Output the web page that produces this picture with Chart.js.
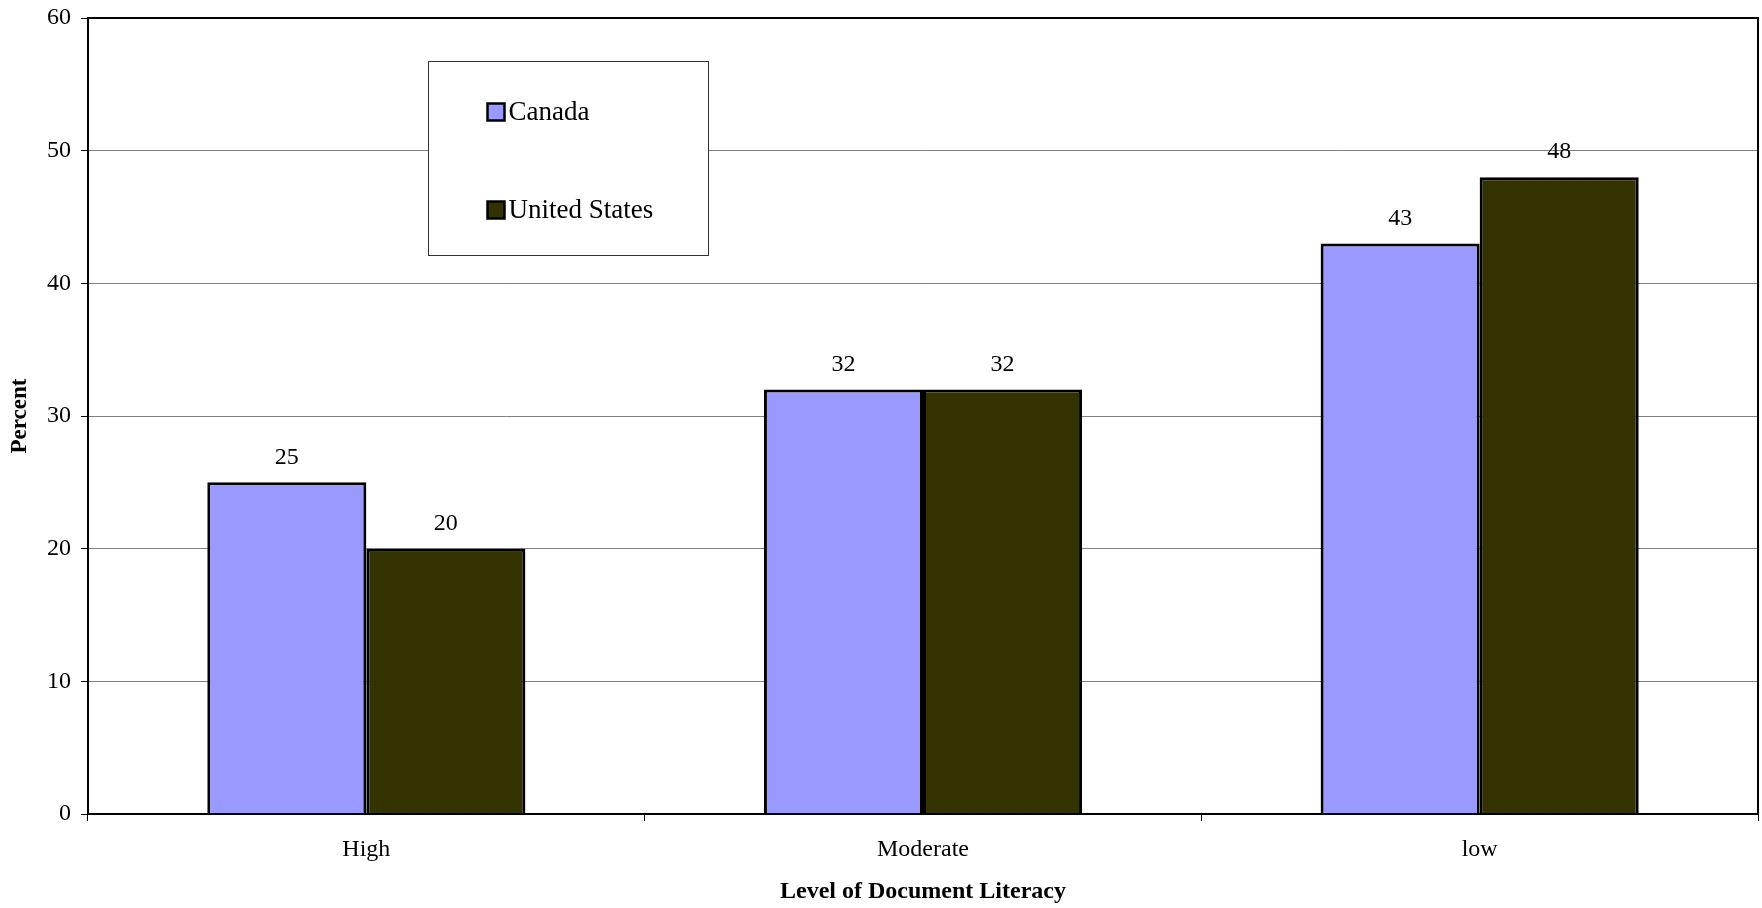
<!DOCTYPE html>
<html>
<head>
<meta charset="utf-8">
<script src="https://cdn.jsdelivr.net/npm/chart.js@4.4.1/dist/chart.umd.min.js"></script>
<style>
  html, body { margin: 0; padding: 0; background: #ffffff; }
  #wrap { width: 1762px; height: 908px; }
</style>
</head>
<body>
<div id="wrap"><canvas id="c" width="1762" height="908"></canvas></div>
<script>
// Document literacy levels, percent of adults
const categories = ['High', 'Moderate', 'low'];
const canadaValues = [25, 32, 43];
const usValues = [20, 32, 48];
const seriesNames = ['Canada', 'United States'];
const yTicks = [0, 10, 20, 30, 40, 50, 60];

const SERIF = '"Liberation Serif", "Times New Roman", Times, serif';

// Value labels above each bar
const valueLabels = {
  id: 'valueLabels',
  afterDatasetsDraw(chart) {
    const ctx = chart.ctx;
    ctx.save();
    ctx.font = '24px ' + SERIF;
    ctx.fillStyle = '#000';
    ctx.textAlign = 'center';
    ctx.textBaseline = 'middle';
    chart.data.datasets.forEach((ds, i) => {
      chart.getDatasetMeta(i).data.forEach((bar, j) => {
        ctx.fillText(String(ds.data[j]), bar.x, bar.y - 25);
      });
    });
    ctx.restore();
  }
};

// Plot-area frame plus the boxed legend inside it
const frameAndLegend = {
  id: 'frameAndLegend',
  afterDraw(chart) {
    const ctx = chart.ctx;
    const a = chart.chartArea;
    ctx.save();
    ctx.strokeStyle = '#000';
    ctx.lineWidth = 2;
    ctx.strokeRect(a.left, a.top, a.right - a.left, a.bottom - a.top);

    const bx = a.left + 340.5, by = a.top + 43.5, bw = 280, bh = 194;
    ctx.fillStyle = '#fff';
    ctx.fillRect(bx, by, bw, bh);
    ctx.strokeStyle = '#333';
    ctx.lineWidth = 1;
    ctx.strokeRect(bx, by, bw, bh);

    ctx.font = '27px ' + SERIF;
    ctx.textAlign = 'left';
    ctx.textBaseline = 'middle';
    chart.data.datasets.forEach((ds, i) => {
      const cy = by + 51 + i * 98;
      const sx = bx + 59;
      ctx.fillStyle = ds.backgroundColor;
      ctx.fillRect(sx, cy - 9, 17, 17);
      ctx.strokeStyle = '#000';
      ctx.lineWidth = 2.5;
      ctx.strokeRect(sx, cy - 9, 17, 17);
      ctx.fillStyle = '#000';
      ctx.fillText(ds.label, sx + 21, cy);
    });
    ctx.restore();
  }
};

new Chart(document.getElementById('c'), {
  type: 'bar',
  data: {
    labels: categories,
    datasets: [
      { label: seriesNames[0], data: canadaValues, backgroundColor: '#9999FF', borderColor: '#000', borderWidth: 3 },
      { label: seriesNames[1], data: usValues, backgroundColor: '#333300', borderColor: '#000', borderWidth: 3 }
    ]
  },
  options: {
    responsive: false,
    animation: false,
    devicePixelRatio: 1,
    layout: { padding: { top: 18, right: 4, left: 0, bottom: 0 } },
    datasets: { bar: { categoryPercentage: 2 / 3.5, barPercentage: 1 } },
    plugins: { legend: { display: false }, tooltip: { enabled: false } },
    scales: {
      x: {
        afterFit(s) { s.height = 94; },
        grid: { drawOnChartArea: false, drawTicks: true, tickLength: 7, tickColor: '#000', offset: true },
        border: { color: '#000', width: 2 },
        ticks: { color: '#000', font: { family: SERIF, size: 24 }, padding: 14 },
        title: { display: true, text: 'Level of Document Literacy', color: '#000',
                 font: { family: SERIF, size: 24, weight: 'bold' }, padding: { top: 0, bottom: 2 } }
      },
      y: {
        min: 0, max: 60,
        afterFit(s) { s.width = 88; s.paddingTop = 0; s.paddingBottom = 0; },
        afterBuildTicks(s) { s.ticks = yTicks.map(v => ({ value: v })); },
        grid: { color: '#808080', lineWidth: 1, tickLength: 7, tickColor: '#000' },
        border: { color: '#000', width: 2 },
        ticks: { color: '#000', font: { family: SERIF, size: 24 }, padding: 10 },
        title: { display: true, text: 'Percent', color: '#000',
                 font: { family: SERIF, size: 23, weight: 'bold' }, padding: { top: 6, bottom: 0 } }
      }
    }
  },
  plugins: [valueLabels, frameAndLegend]
});
</script>
</body>
</html>
